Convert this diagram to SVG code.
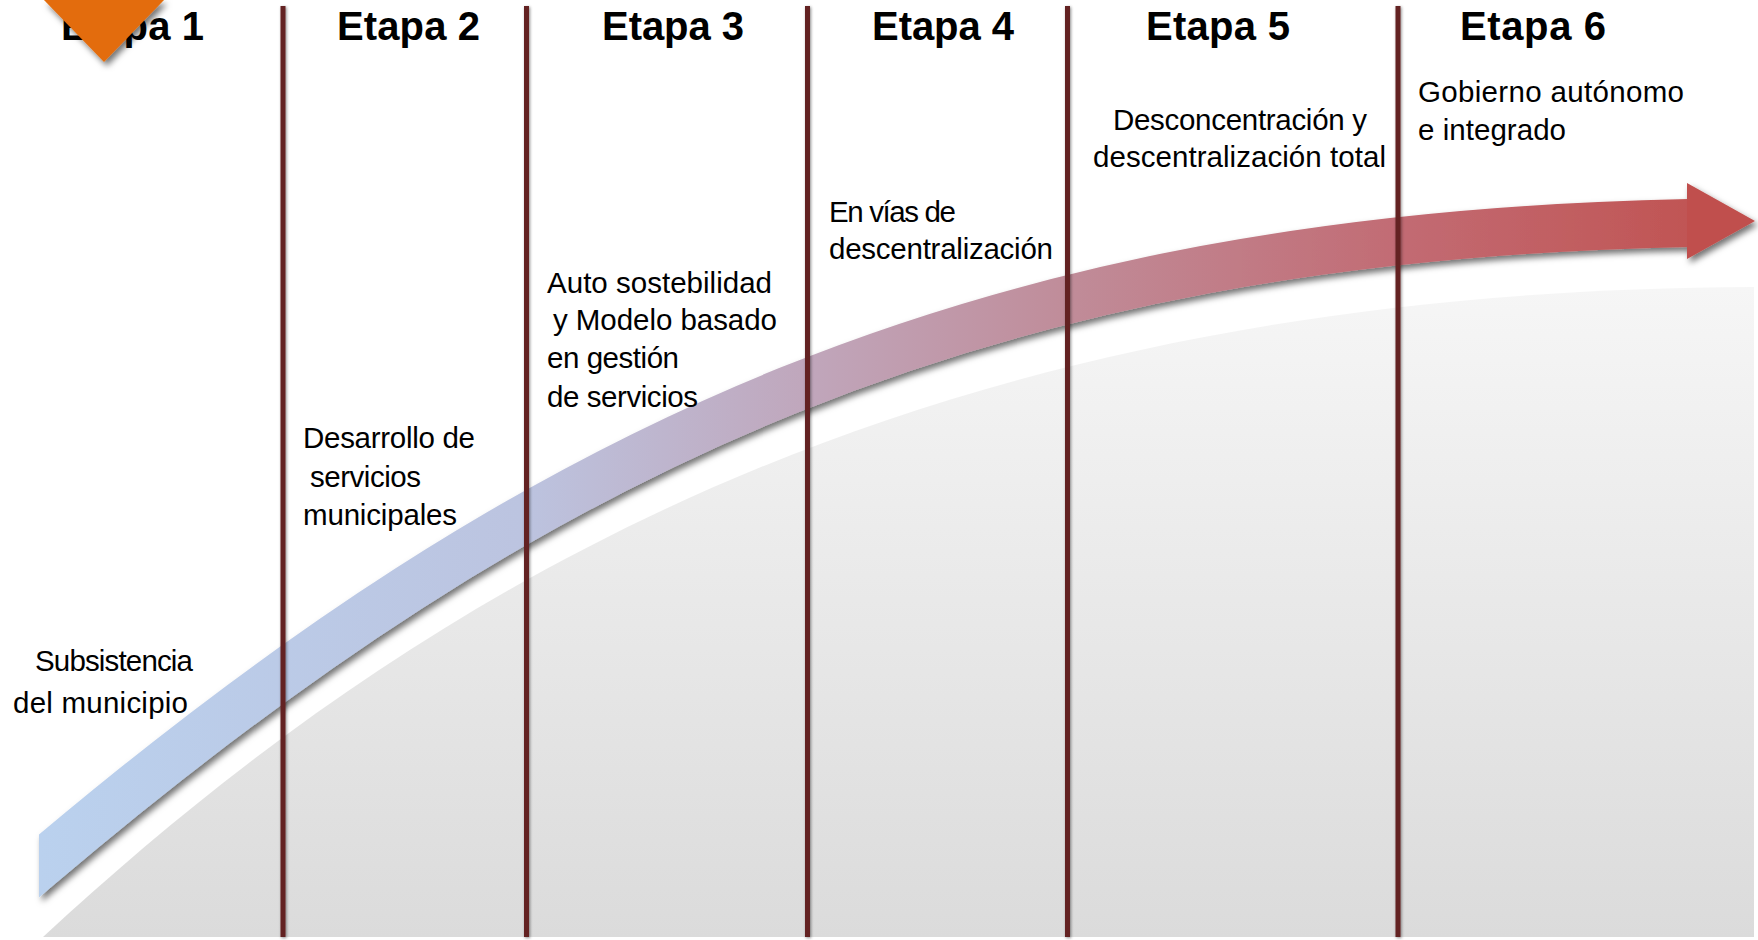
<svg xmlns="http://www.w3.org/2000/svg" width="1758" height="940" viewBox="0 0 1758 940">
<defs>
<linearGradient id="bgGrad" gradientUnits="userSpaceOnUse" x1="0" y1="287" x2="0" y2="937">
<stop offset="0" stop-color="#f6f6f6"/>
<stop offset="1" stop-color="#dbdbdb"/>
</linearGradient>
<linearGradient id="bandGrad" gradientUnits="userSpaceOnUse" x1="39" y1="0" x2="1755" y2="0">
<stop offset="0" stop-color="#bad1ee"/>
<stop offset="0.28" stop-color="#bcc4e0"/>
<stop offset="0.45" stop-color="#c0a6bb"/>
<stop offset="0.6" stop-color="#c08c99"/>
<stop offset="0.8" stop-color="#c26a72"/>
<stop offset="1" stop-color="#c0504d"/>
</linearGradient>
<filter id="shadow" x="-5%" y="-10%" width="112%" height="125%">
<feDropShadow dx="3" dy="4" stdDeviation="3" flood-color="#000" flood-opacity="0.55"/>
</filter>
<filter id="lineShadow" x="-200%" y="-1%" width="500%" height="102%">
<feDropShadow dx="1" dy="1" stdDeviation="1.6" flood-color="#000" flood-opacity="0.45"/>
</filter>
<clipPath id="bandClip">
<rect x="39" y="0" width="1719" height="940"/>
</clipPath>
<style>
.head{font-family:"Liberation Sans",Arial,sans-serif;font-weight:bold;font-size:40px;fill:#000}
.body{font-family:"Liberation Sans",Arial,sans-serif;font-size:29.5px;fill:#000}
.divider{fill:#632423}
</style>
</defs>
<g id="background">
<path d="M43,937 C450,560 950,290 1754,287 L1754,937 Z" fill="url(#bgGrad)"/>
</g>
<g id="arrow" filter="url(#shadow)">
<g clip-path="url(#bandClip)">
<path d="M16,885.5 L39,866 C539,441 987,237 1688,223" fill="none" stroke="url(#bandGrad)" stroke-width="48"/>
</g>
<polygon points="1687,183 1755,221 1687,259" fill="#c0504d"/>
</g>
<g id="connectors">
<rect class="divider" x="280.5" y="6" width="5" height="931" filter="url(#lineShadow)"/>
<rect class="divider" x="524" y="6" width="5" height="931" filter="url(#lineShadow)"/>
<rect class="divider" x="805" y="6" width="5" height="931" filter="url(#lineShadow)"/>
<rect class="divider" x="1065" y="6" width="5" height="931" filter="url(#lineShadow)"/>
<rect class="divider" x="1395.5" y="6" width="5" height="931" filter="url(#lineShadow)"/>
</g>
<g id="etapa1">
<text class="head" x="61" y="40" textLength="143">Etapa 1</text>
<text class="body" x="35" y="671" textLength="158">Subsistencia</text>
<text class="body" x="13" y="713" textLength="175">del municipio</text>
</g>
<g id="etapa2">
<text class="head" x="337" y="40" textLength="143">Etapa 2</text>
<text class="body" x="303" y="448" textLength="172">Desarrollo de</text>
<text class="body" x="310" y="487" textLength="111">servicios</text>
<text class="body" x="303" y="525" textLength="154">municipales</text>
</g>
<g id="etapa3">
<text class="head" x="602" y="40" textLength="142">Etapa 3</text>
<text class="body" x="547" y="293" textLength="225">Auto sostebilidad</text>
<text class="body" x="553" y="330" textLength="224">y Modelo basado</text>
<text class="body" x="547" y="368" textLength="132">en gestión</text>
<text class="body" x="547" y="407" textLength="151">de servicios</text>
</g>
<g id="etapa4">
<text class="head" x="872" y="40" textLength="142">Etapa 4</text>
<text class="body" x="829" y="222" textLength="127">En vías de</text>
<text class="body" x="829" y="259" textLength="224">descentralización</text>
</g>
<g id="etapa5">
<text class="head" x="1146" y="40" textLength="144">Etapa 5</text>
<text class="body" x="1113" y="130" textLength="254">Desconcentración y</text>
<text class="body" x="1093" y="167" textLength="293">descentralización total</text>
</g>
<g id="etapa6">
<text class="head" x="1460" y="40" textLength="146">Etapa 6</text>
<text class="body" x="1418" y="102" textLength="266">Gobierno autónomo</text>
<text class="body" x="1418" y="140" textLength="148">e integrado</text>
</g>
<g id="marker">
<polygon points="44,0 164,0 104,62" fill="#e36c09" filter="url(#shadow)"/>
</g>
</svg>
